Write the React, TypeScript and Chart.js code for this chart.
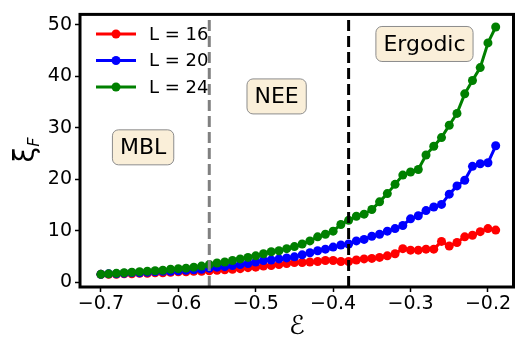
import React, { useEffect, useRef } from "react";
import { Chart, registerables } from "chart.js";
Chart.register(...registerables);

const energies = [
  -0.70, -0.69, -0.68, -0.67, -0.66, -0.65, -0.64, -0.63, -0.62, -0.61,
  -0.60, -0.59, -0.58, -0.57, -0.56, -0.55, -0.54, -0.53, -0.52, -0.51,
  -0.50, -0.49, -0.48, -0.47, -0.46, -0.45, -0.44, -0.43, -0.42, -0.41,
  -0.40, -0.39, -0.38, -0.37, -0.36, -0.35, -0.34, -0.33, -0.32, -0.31,
  -0.30, -0.29, -0.28, -0.27, -0.26, -0.25, -0.24, -0.23, -0.22, -0.21,
  -0.20, -0.19,
];

const xiL16 = [
  1.5, 1.5, 1.5, 1.6, 1.6, 1.7, 1.7, 1.8, 1.8, 1.9,
  2.0, 2.0, 2.1, 2.1, 2.2, 2.3, 2.4, 2.5, 2.6, 2.8,
  2.9, 3.1, 3.2, 3.4, 3.6, 3.8, 3.8, 3.9, 4.0, 4.2,
  4.2, 4.0, 4.0, 4.3, 4.5, 4.6, 4.8, 5.1, 5.5, 6.5,
  6.2, 6.2, 6.4, 6.4, 7.9, 7.0, 7.7, 8.8, 9.1, 9.8,
  10.4, 10.1,
];

const xiL20 = [
  1.5, 1.6, 1.6, 1.7, 1.8, 1.8, 1.9, 2.0, 2.1, 2.1,
  2.2, 2.3, 2.4, 2.5, 2.7, 2.9, 3.0, 3.2, 3.4, 3.6,
  3.9, 4.2, 4.3, 4.5, 4.7, 4.9, 5.3, 5.7, 6.1, 6.4,
  6.8, 7.2, 7.4, 8.0, 8.3, 8.9, 9.3, 9.9, 10.4, 11.0,
  12.3, 12.9, 13.9, 14.6, 15.1, 17.1, 18.7, 19.8, 22.5, 23.0,
  23.2, 26.5,
];

const xiL24 = [
  1.5, 1.6, 1.7, 1.8, 1.9, 2.0, 2.1, 2.2, 2.3, 2.5,
  2.6, 2.7, 2.9, 3.1, 3.4, 3.7, 3.9, 4.2, 4.5, 4.8,
  5.1, 5.5, 5.9, 6.1, 6.5, 6.9, 7.4, 8.0, 8.8, 9.3,
  9.9, 11.2, 12.0, 12.8, 13.2, 14.1, 15.6, 17.2, 19.0, 20.8,
  21.4, 21.9, 24.7, 26.4, 28.1, 30.5, 32.8, 36.6, 39.2, 41.7,
  46.5, 49.6,
];

const seriesLabels = ["L = 16", "L = 20", "L = 24"];
const seriesColors = ["#ff0000", "#0000ff", "#008000"];

const xTicks = [-0.7, -0.6, -0.5, -0.4, -0.3, -0.2];
const yTicks = [0, 10, 20, 30, 40, 50];

const transitionMBL = -0.56;
const transitionErgodic = -0.38;

const phaseLabels = ["MBL", "NEE", "Ergodic"];
const phasePositions = [
  { x: -0.6455, y: 26.2 },
  { x: -0.473, y: 36.1 },
  { x: -0.282, y: 46.3 },
];

const FONT = "'DejaVu Sans', sans-serif";

const overlayPlugin = {
  id: "overlay",
  afterDatasetsDraw(chart: any) {
    const ctx = chart.ctx;
    const { top, bottom } = chart.chartArea;
    const xs = chart.scales.x;
    const ys = chart.scales.y;
    ctx.save();
    const drawV = (val: number, color: string) => {
      const px = xs.getPixelForValue(val);
      ctx.beginPath();
      ctx.setLineDash([11, 5]);
      ctx.lineWidth = 3;
      ctx.strokeStyle = color;
      ctx.moveTo(px, bottom);
      ctx.lineTo(px, top);
      ctx.stroke();
    };
    drawV(transitionMBL, "#808080");
    drawV(transitionErgodic, "#000000");
    ctx.setLineDash([]);

    ctx.font = `22px ${FONT}`;
    ctx.textAlign = "center";
    ctx.textBaseline = "middle";
    phaseLabels.forEach((t, i) => {
      const cx = xs.getPixelForValue(phasePositions[i].x);
      const cy = ys.getPixelForValue(phasePositions[i].y);
      const w = ctx.measureText(t).width + 15;
      const h = 35;
      const x0 = cx - w / 2;
      const y0 = cy - h / 2;
      ctx.beginPath();
      if ((ctx as any).roundRect) (ctx as any).roundRect(x0, y0, w, h, 6);
      else ctx.rect(x0, y0, w, h);
      ctx.fillStyle = "#faefd9";
      ctx.fill();
      ctx.lineWidth = 1;
      ctx.strokeStyle = "#8c8c8c";
      ctx.stroke();
      ctx.fillStyle = "#000";
      ctx.fillText(t, cx, cy + 1);
    });

    ctx.font = `18px ${FONT}`;
    ctx.textAlign = "left";
    ctx.textBaseline = "middle";
    seriesLabels.forEach((lab, i) => {
      const y = 34 + i * 26.5;
      ctx.strokeStyle = seriesColors[i];
      ctx.lineWidth = 3;
      ctx.beginPath();
      ctx.moveTo(96, y);
      ctx.lineTo(136, y);
      ctx.stroke();
      ctx.fillStyle = seriesColors[i];
      ctx.beginPath();
      ctx.arc(116, y, 4.5, 0, Math.PI * 2);
      ctx.fill();
      ctx.fillStyle = "#000";
      ctx.fillText(lab, 149, y + 1);
    });
    ctx.restore();
  },
  afterDraw(chart: any) {
    const ctx = chart.ctx;
    const { left, right, top, bottom } = chart.chartArea;
    ctx.save();
    ctx.lineWidth = 3;
    ctx.strokeStyle = "#000";
    ctx.strokeRect(left, top, right - left, bottom - top);
    ctx.translate(26, 150);
    ctx.rotate(-Math.PI / 2);
    ctx.fillStyle = "#000";
    ctx.textBaseline = "alphabetic";
    ctx.textAlign = "left";
    ctx.font = `italic 16px ${FONT}`;
    const fw = ctx.measureText("F").width;
    ctx.font = `28px ${FONT}`;
    const w = ctx.measureText("ξ").width;
    const total = w + fw;
    ctx.fillText("ξ", -total / 2, 8);
    ctx.font = `italic 16px ${FONT}`;
    ctx.fillText("F", -total / 2 + w, 13);
    ctx.restore();
  },
};

export default function App() {
  const ref = useRef<HTMLCanvasElement | null>(null);
  useEffect(() => {
    document.body.style.margin = "0";
    if (!ref.current) return;
    const mk = (data: number[], i: number, order: number) => ({
      label: seriesLabels[i],
      data: energies.map((x, k) => ({ x, y: data[k] })),
      borderColor: seriesColors[i],
      backgroundColor: seriesColors[i],
      borderWidth: 3,
      pointRadius: 4.5,
      pointBorderWidth: 0,
      pointBackgroundColor: seriesColors[i],
      tension: 0,
      order,
    });
    const chart = new Chart(ref.current, {
      type: "line",
      data: {
        datasets: [mk(xiL16, 0, 3), mk(xiL20, 1, 2), mk(xiL24, 2, 1)],
      },
      plugins: [overlayPlugin],
      options: {
        responsive: false,
        animation: false,
        events: [],
        layout: { padding: { top: 10, right: 3, left: 0, bottom: 0 } },
        plugins: { legend: { display: false }, tooltip: { enabled: false } },
        scales: {
          x: {
            type: "linear",
            min: -0.727,
            max: -0.167,
            afterBuildTicks: (s: any) => {
              s.ticks = xTicks.map((v) => ({ value: v }));
            },
            afterFit: (s: any) => {
              s.height = 56;
            },
            ticks: {
              color: "#000",
              font: { family: FONT, size: 19 },
              padding: 1,
              maxRotation: 0,
              autoSkip: false,
              callback: (v: any) => "\u2212" + Math.abs(Number(v)).toFixed(1),
            },
            grid: {
              drawOnChartArea: false,
              drawTicks: true,
              tickLength: 5,
              tickWidth: 1.5,
              tickColor: "#000",
            },
            border: { display: false },
            title: {
              display: true,
              text: "\u2130",
              color: "#000",
              font: { family: FONT, size: 26 },
              padding: { top: -4, bottom: 0 },
            },
          },
          y: {
            type: "linear",
            min: -0.96,
            max: 52.05,
            afterBuildTicks: (s: any) => {
              s.ticks = yTicks.map((v) => ({ value: v }));
            },
            afterFit: (s: any) => {
              s.width = 80;
            },
            ticks: {
              color: "#000",
              font: { family: FONT, size: 19 },
              padding: 3,
              autoSkip: false,
            },
            grid: {
              drawOnChartArea: false,
              drawTicks: true,
              tickLength: 5,
              tickWidth: 1.5,
              tickColor: "#000",
            },
            border: { display: false },
          },
        },
      },
    } as any);
    return () => chart.destroy();
  }, []);
  return <canvas ref={ref} width={518} height={343} style={{ display: "block" }} />;
}
